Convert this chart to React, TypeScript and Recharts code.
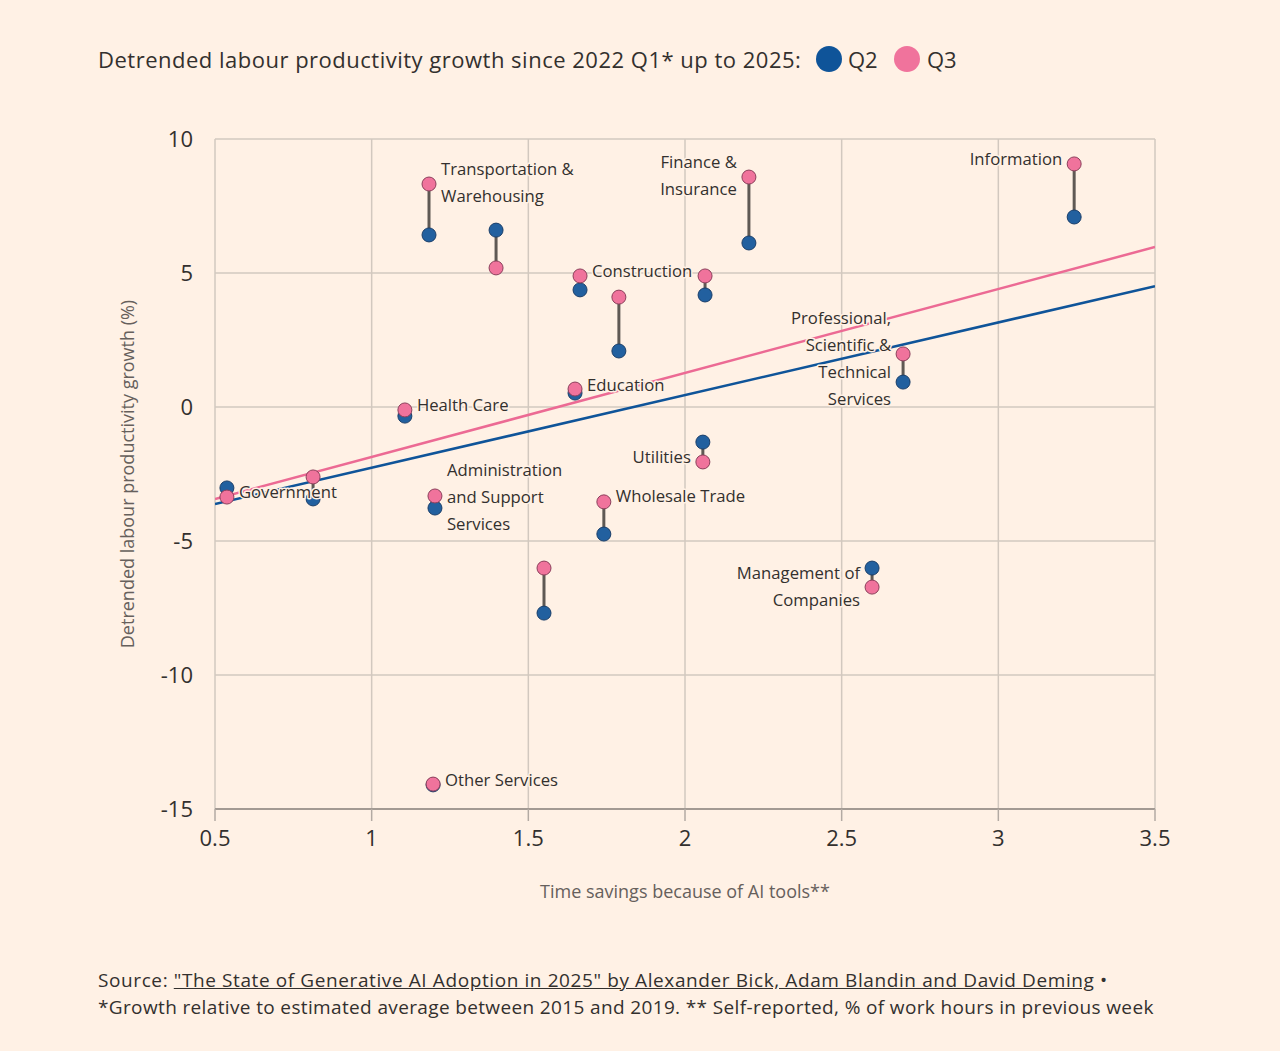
import React from 'react';
import { ComposedChart, Scatter, XAxis, YAxis, CartesianGrid } from 'recharts';

// ---- Data ----
const timeSavings = [0.538, 0.813, 1.106, 1.183, 1.196, 1.202, 1.397, 1.55, 1.649, 1.665, 1.741, 1.789, 2.057, 2.064, 2.204, 2.597, 2.696, 3.242];
const q2Growth = [-3.02, -3.43, -0.34, 6.42, -14.1, -3.77, 6.6, -7.69, 0.52, 4.37, -4.74, 2.09, -1.31, 4.18, 6.12, -6.01, 0.93, 7.09];
const q3Growth = [-3.36, -2.61, -0.11, 8.32, -14.07, -3.32, 5.19, -6.01, 0.67, 4.89, -3.54, 4.1, -2.05, 4.89, 8.58, -6.72, 1.98, 9.07];
const industryLabels = [
  'Government', '', 'Health Care', 'Transportation &\nWarehousing', 'Other Services',
  'Administration\nand Support\nServices', '', '', 'Education', 'Construction', 'Wholesale Trade', '',
  'Utilities', '', 'Finance &\nInsurance', 'Management of\nCompanies',
  'Professional,\nScientific &\nTechnical\nServices', 'Information',
];
const trendX = [0.5, 3.5];
const trendQ2 = [-3.62, 4.51];
const trendQ3 = [-3.43, 5.97];
const xTicks = [0.5, 1, 1.5, 2, 2.5, 3, 3.5];
const yTicks = [-15, -10, -5, 0, 5, 10];

// ---- Label layout (styling only) ----
type LabelLayout = { anchor: 'q2' | 'q3'; side: 'left' | 'right'; dy: number };
const labelLayout: Record<number, LabelLayout> = {
  0: { anchor: 'q2', side: 'right', dy: 4 },
  2: { anchor: 'q3', side: 'right', dy: -5 },
  3: { anchor: 'q3', side: 'right', dy: -16 },
  4: { anchor: 'q3', side: 'right', dy: -5 },
  5: { anchor: 'q3', side: 'right', dy: -26 },
  8: { anchor: 'q3', side: 'right', dy: -5 },
  9: { anchor: 'q3', side: 'right', dy: -5 },
  10: { anchor: 'q3', side: 'right', dy: -6 },
  12: { anchor: 'q3', side: 'left', dy: -5 },
  14: { anchor: 'q3', side: 'left', dy: -16 },
  15: { anchor: 'q2', side: 'left', dy: 4 },
  16: { anchor: 'q3', side: 'left', dy: -36 },
  17: { anchor: 'q3', side: 'left', dy: -5 },
};

const BG = '#FFF1E5';
const TEXT = '#33302E';
const MUTED = '#66605C';
const GRID = '#D2C8BF';
const BLUE = '#0F5499';
const BLUE_DOT = '#22609F';
const PINK = '#EC6A94';
const PINK_DOT = '#F0739C';
const STEM = '#5F5954';
const FONT = '"Open Sans", sans-serif';

const q2Data = timeSavings.map((x, i) => ({ x, y: q2Growth[i] }));
const q3Data = timeSavings.map((x, i) => ({ x, y: q3Growth[i] }));
const stems = timeSavings.map((x, i) => [
  { x, y: q2Growth[i] },
  { x, y: q3Growth[i] },
]);
const trendQ2Data = trendX.map((x, i) => ({ x, y: trendQ2[i] }));
const trendQ3Data = trendX.map((x, i) => ({ x, y: trendQ3[i] }));
const labelData = industryLabels
  .map((label, i) => ({ label, i }))
  .filter((d) => d.label !== '')
  .map(({ label, i }) => {
    const lay = labelLayout[i];
    return {
      x: timeSavings[i],
      y: lay.anchor === 'q2' ? q2Growth[i] : q3Growth[i],
      label,
      idx: i,
    };
  });

const Nothing = () => <g />;

const Dot = (fill: string, stroke: string) => (props: any) => {
  const { cx, cy } = props;
  if (cx == null || cy == null) return <g />;
  return <circle cx={cx} cy={cy} r={7} fill={fill} stroke={stroke} strokeWidth={1} />;
};

const LabelShape = (props: any) => {
  const { cx, cy } = props;
  const p = props.payload ?? props;
  const lay = labelLayout[p.idx];
  if (!lay || cx == null) return <g />;
  const lines: string[] = String(p.label).split('\n');
  const dx = lay.side === 'right' ? 12 : -12;
  return (
    <g>
      {lines.map((ln, k) => (
        <text
          key={k}
          x={cx + dx}
          y={cy + lay.dy + k * 27}
          textAnchor={lay.side === 'right' ? 'start' : 'end'}
          dominantBaseline="central"
          fontFamily={FONT}
          fontSize={16.7}
          fill={TEXT}
          stroke={BG}
          strokeWidth={3}
          paintOrder="stroke"
          strokeLinejoin="round"
        >
          {ln}
        </text>
      ))}
    </g>
  );
};

const YTitle = () => (
  <text
    x={127}
    y={474}
    transform="rotate(-90 127 474)"
    textAnchor="middle"
    dominantBaseline="central"
    fontFamily={FONT}
    fontSize={18}
    fill={MUTED}
  >
    Detrended labour productivity growth (%)
  </text>
);

export default function App() {
  return (
    <div
      style={{
        position: 'absolute',
        left: 0,
        top: 0,
        width: 1280,
        height: 1051,
        background: BG,
        fontFamily: FONT,
        color: TEXT,
        overflow: 'hidden',
      }}
    >
      {/* Title + legend */}
      <div style={{ position: 'absolute', left: 98, top: 46, fontSize: 22, letterSpacing: 0.5, lineHeight: '26px', whiteSpace: 'nowrap' }}>
        Detrended labour productivity growth since 2022 Q1* up to 2025:
      </div>
      <div style={{ position: 'absolute', left: 816, top: 46, width: 26, height: 26, borderRadius: 13, background: BLUE }} />
      <div style={{ position: 'absolute', left: 848, top: 46, fontSize: 22, lineHeight: '26px' }}>Q2</div>
      <div style={{ position: 'absolute', left: 894, top: 46, width: 26, height: 26, borderRadius: 13, background: PINK_DOT }} />
      <div style={{ position: 'absolute', left: 927, top: 46, fontSize: 22, lineHeight: '26px' }}>Q3</div>

      <div style={{ position: 'absolute', left: 0, top: 0 }}>
        <ComposedChart
          width={1280}
          height={900}
          margin={{ top: 139, right: 125, bottom: 31, left: 0 }}
        >
          <CartesianGrid stroke={GRID} strokeWidth={1.5} horizontalValues={yTicks} verticalValues={xTicks} />
          <XAxis
            type="number"
            dataKey="x"
            domain={[0.5, 3.5]}
            ticks={xTicks}
            allowDataOverflow
            height={60}
            tickSize={12}
            tickMargin={9}
            stroke="#9E958E"
            axisLine={{ stroke: '#A39A93', strokeWidth: 2 }}
            tickLine={{ stroke: '#B3AAA3', strokeWidth: 1.5 }}
            tick={{ fill: TEXT, fontSize: 22, fontFamily: FONT }}
            tickFormatter={(v: number) => String(v)}
          />
          <YAxis
            type="number"
            dataKey="y"
            domain={[-15, 10]}
            ticks={yTicks}
            allowDataOverflow
            width={215}
            axisLine={false}
            tickLine={false}
            tickSize={0}
            tickMargin={22}
            tick={{ fill: TEXT, fontSize: 22, fontFamily: FONT }}
            label={<YTitle />}
          />
          <Scatter
            data={trendQ2Data}
            line={{ stroke: BLUE, strokeWidth: 2.5 }}
            shape={Nothing}
            isAnimationActive={false}
          />
          <Scatter
            data={trendQ3Data}
            line={{ stroke: PINK, strokeWidth: 2.5 }}
            shape={Nothing}
            isAnimationActive={false}
          />
          {stems.map((seg, i) => (
            <Scatter
              key={'stem' + i}
              data={seg}
              line={{ stroke: STEM, strokeWidth: 3 }}
              shape={Nothing}
              isAnimationActive={false}
            />
          ))}
          <Scatter data={q2Data} shape={Dot(BLUE_DOT, '#1B3F6A')} isAnimationActive={false} />
          <Scatter data={q3Data} shape={Dot(PINK_DOT, '#8C3F5B')} isAnimationActive={false} />
          <Scatter data={labelData} shape={LabelShape} isAnimationActive={false} />
        </ComposedChart>
      </div>

      {/* X axis title */}
      <div
        style={{
          position: 'absolute',
          left: 385,
          width: 600,
          top: 879,
          textAlign: 'center',
          fontSize: 18,
          lineHeight: '24px',
          color: MUTED,
        }}
      >
        Time savings because of AI tools**
      </div>

      {/* Footer */}
      <div style={{ position: 'absolute', left: 98, top: 967, fontSize: 19, lineHeight: '27px', whiteSpace: 'nowrap', color: TEXT }}>
        <div style={{ letterSpacing: 0.6 }}>
          Source: <span style={{ textDecoration: 'underline' }}>"The State of Generative AI Adoption in 2025" by Alexander Bick, Adam Blandin and David Deming</span> •
        </div>
        <div style={{ letterSpacing: 0.36 }}>*Growth relative to estimated average between 2015 and 2019. ** Self-reported, % of work hours in previous week</div>
      </div>
    </div>
  );
}
